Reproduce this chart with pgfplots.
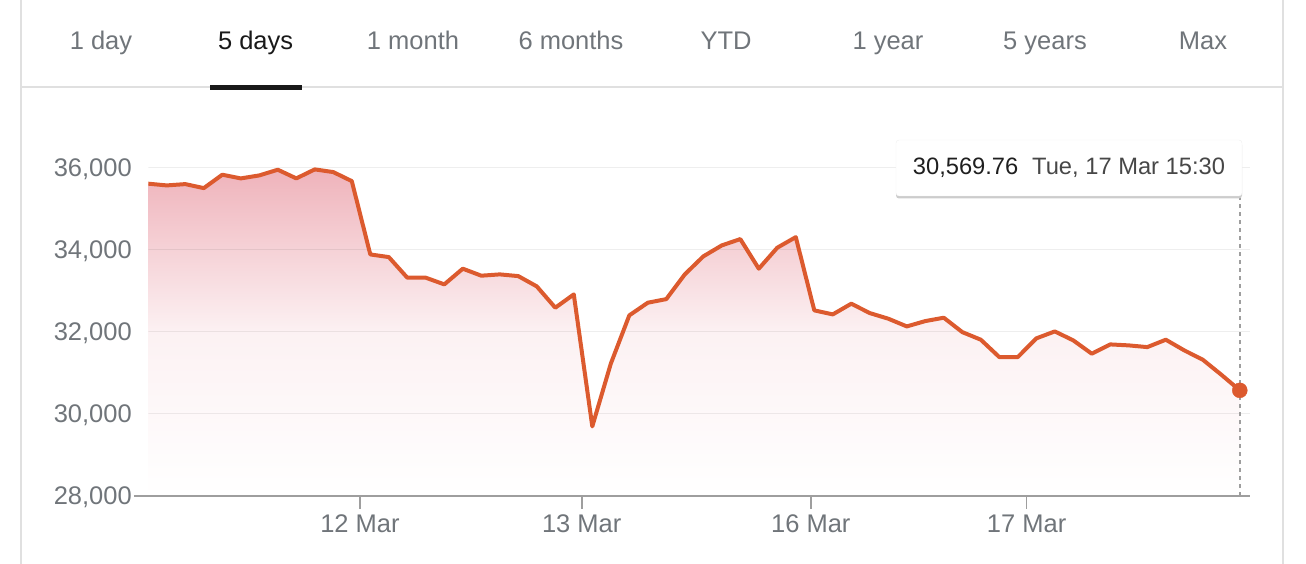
\documentclass[border=0pt]{standalone}
\usepackage{fontspec}
\setmainfont{Liberation Sans}
\usepackage{pgfplots}
\usepackage{pgfplotstable}
\pgfplotsset{compat=1.18}
\definecolor{lineor}{HTML}{DC5A2E}
\definecolor{fillpink}{HTML}{EFB3BB}
\definecolor{txtgray}{HTML}{70757A}
\definecolor{axgray}{HTML}{9E9E9E}
\definecolor{bordergray}{HTML}{E0E0E0}

% half-hourly closes, 11-17 Mar
\pgfplotstableread{
idx value
0 35610
1 35568
2 35600
3 35502
4 35829
5 35739
6 35812
7 35951
8 35739
9 35959
10 35893
11 35673
12 33885
13 33820
14 33317
15 33317
16 33154
17 33537
18 33366
19 33398
20 33356
21 33105
22 32585
23 32910
24 29690
25 31220
26 32398
27 32707
28 32795
29 33398
30 33837
31 34105
32 34259
33 33537
34 34049
35 34307
36 32520
37 32422
38 32683
39 32454
40 32317
41 32129
42 32259
43 32341
44 31990
45 31805
46 31381
47 31381
48 31837
49 32007
50 31788
51 31463
52 31690
53 31666
54 31624
55 31805
56 31544
57 31317
58 30951
59 30569.76
}\prices

\newcommand\bigfont{\fontsize{25.5}{30}\selectfont}
\newcommand\tipfont{\fontsize{23.7}{28}\selectfont}

\begin{document}
\begin{tikzpicture}
% everything outside the axis is given in screen pixels (origin top left)
\begin{scope}[x=1pt, y=-1pt, xshift=-148.3pt, yshift=495.7pt]
\path[use as bounding box] (0,0) rectangle (1306,564);
\draw[bordergray, line width=2pt] (21,0) -- (21,564);
\draw[bordergray, line width=2pt] (1283,0) -- (1283,564);
\draw[bordergray, line width=2pt] (21,87) -- (1283,87);
\foreach \cx/\lab in {101/1 day, 413/1 month, 571/6 months, 726/YTD, 888/1 year, 1045/5 years, 1203/Max}
  \node[anchor=base, inner sep=0pt, font=\bigfont, text=txtgray] at (\cx,50) {\lab};
\node[anchor=base, inner sep=0pt, font=\bigfont, text=black!90] at (255.6,50) {5 days};
\fill[black!90] (210,85.5) rectangle (302,90);
\end{scope}

\begin{axis}[
    scale only axis,
    width=1101.7pt, height=328pt,
    xmin=0, xmax=59.55,
    ymin=28000, ymax=36000,
    axis line style={draw=none},
    ytick={28000,30000,32000,34000,36000},
    scaled y ticks=false,
    /pgf/number format/1000 sep={,},
    /pgf/number format/assume math mode=true,
    xtick={11.44,23.43,35.81,47.48},
    xticklabels={12 Mar,13 Mar,16 Mar,17 Mar},
    xtick pos=bottom, ytick pos=left,
    tick align=outside,
    major tick length=13pt,
    xtick style={axgray, line width=1.5pt},
    ytick style={draw=none},
    tick label style={font=\bigfont, text=txtgray, inner sep=0pt},
    yticklabel style={anchor=base east, xshift=-3.3pt, yshift=-9pt},
    xticklabel style={anchor=base, yshift=-23.6pt},
]
\addplot[draw=none, top color=fillpink, bottom color=white, middle color=fillpink!18] table[x=idx, y=value] {\prices} \closedcycle;
% grid lines sit over the shaded area
\pgfplotsinvokeforeach{30000,32000,34000,36000}{
  \draw[black, opacity=0.065, line width=1.5pt] (axis cs:0,#1) -- (axis cs:59.55,#1);
}
\draw[axgray, line width=2pt, dash pattern=on 4pt off 4pt] (axis cs:59,28000) -- (axis cs:59,35285);
\addplot[lineor, line width=4pt, line join=round] table[x=idx, y=value] {\prices};
\addplot[only marks, mark=*, mark size=7.5pt, lineor] coordinates {(59,30569.76)};
\end{axis}

\begin{scope}[x=1pt, y=-1pt, xshift=-148.3pt, yshift=495.7pt]
% base line of the axis
\draw[axgray, line width=2pt] (134,495.7) -- (1250,495.7);
% tooltip
\fill[black!20, rounded corners=3pt] (896,142) rectangle (1242,198.5);
\fill[white, rounded corners=3pt] (896,140) rectangle (1242,196);
\draw[black!6, rounded corners=3pt] (896,140) rectangle (1242,196);
\node[anchor=base west, inner sep=0pt, font=\tipfont, text=black!88] at (912.7,175) {30,569.76};
\node[anchor=base west, inner sep=0pt, font=\tipfont, text=black!72] at (1032,175) {Tue, 17 Mar 15:30};
\end{scope}
\end{tikzpicture}
\end{document}
